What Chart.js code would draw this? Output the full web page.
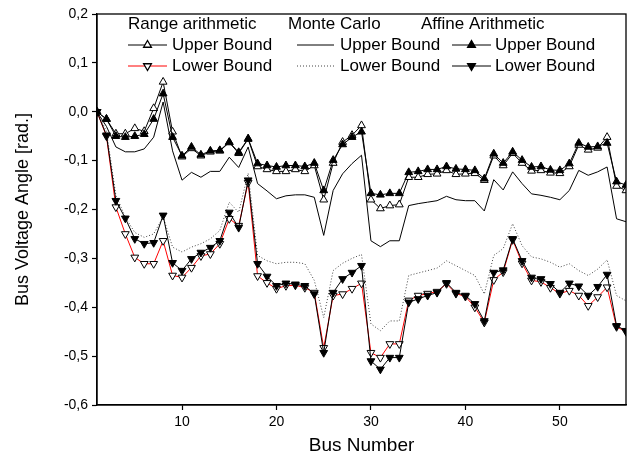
<!DOCTYPE html>
<html>
<head>
<meta charset="utf-8">
<script src="https://cdn.jsdelivr.net/npm/chart.js@4.4.0/dist/chart.umd.min.js"></script>
<style>
  html, body { margin: 0; padding: 0; background: #fff; }
  #wrap { width: 632px; height: 468px; }
</style>
</head>
<body>
<div id="wrap"><canvas id="chart"></canvas></div>
<script>
// Bus numbers (x axis)
const busNumbers = [1, 2, 3, 4, 5, 6, 7, 8, 9, 10, 11, 12, 13, 14, 15, 16, 17, 18, 19, 20,
  21, 22, 23, 24, 25, 26, 27, 28, 29, 30, 31, 32, 33, 34, 35, 36, 37, 38, 39, 40,
  41, 42, 43, 44, 45, 46, 47, 48, 49, 50, 51, 52, 53, 54, 55, 56, 57];

const xTicks = [10, 20, 30, 40, 50];
const yTicks = [-0.6, -0.5, -0.4, -0.3, -0.2, -0.1, 0.0, 0.1, 0.2];

// Affine arithmetic bounds
const affineUpper = [0, -0.015, -0.050, -0.052, -0.050, -0.046, -0.015, 0.037, -0.052, -0.090,
  -0.072, -0.088, -0.080, -0.079, -0.062, -0.083, -0.055, -0.106, -0.110, -0.113,
  -0.110, -0.110, -0.112, -0.105, -0.161, -0.099, -0.067, -0.052, -0.041, -0.167,
  -0.170, -0.167, -0.167, -0.124, -0.122, -0.118, -0.118, -0.112, -0.117, -0.118,
  -0.120, -0.137, -0.086, -0.105, -0.082, -0.099, -0.113, -0.112, -0.119, -0.120,
  -0.106, -0.064, -0.072, -0.071, -0.064, -0.143, -0.150];
const affineLower = [0, -0.048, -0.182, -0.218, -0.260, -0.270, -0.268, -0.212, -0.309, -0.325,
  -0.301, -0.288, -0.278, -0.264, -0.206, -0.237, -0.140, -0.311, -0.337, -0.356,
  -0.351, -0.353, -0.356, -0.373, -0.493, -0.370, -0.342, -0.329, -0.315, -0.510,
  -0.527, -0.503, -0.503, -0.390, -0.383, -0.376, -0.370, -0.350, -0.370, -0.376,
  -0.393, -0.428, -0.329, -0.324, -0.260, -0.305, -0.339, -0.342, -0.352, -0.370,
  -0.351, -0.357, -0.376, -0.358, -0.333, -0.438, -0.448];

// Range arithmetic bounds
const rangeUpper = [0, -0.015, -0.045, -0.045, -0.034, -0.040, 0.007, 0.061, -0.041, -0.092,
  -0.075, -0.090, -0.082, -0.080, -0.063, -0.085, -0.056, -0.112, -0.118, -0.122,
  -0.122, -0.118, -0.122, -0.110, -0.180, -0.105, -0.062, -0.048, -0.028, -0.180,
  -0.198, -0.192, -0.190, -0.134, -0.134, -0.128, -0.127, -0.120, -0.128, -0.127,
  -0.126, -0.140, -0.090, -0.110, -0.085, -0.105, -0.121, -0.120, -0.125, -0.126,
  -0.112, -0.068, -0.078, -0.074, -0.052, -0.152, -0.161];
const rangeLower = [0, -0.050, -0.195, -0.250, -0.298, -0.311, -0.311, -0.264, -0.335, -0.339,
  -0.319, -0.295, -0.291, -0.270, -0.219, -0.233, -0.145, -0.336, -0.350, -0.362,
  -0.356, -0.355, -0.360, -0.370, -0.483, -0.376, -0.373, -0.362, -0.351, -0.493,
  -0.503, -0.475, -0.475, -0.386, -0.376, -0.372, -0.368, -0.352, -0.372, -0.378,
  -0.400, -0.431, -0.344, -0.328, -0.262, -0.310, -0.345, -0.348, -0.360, -0.372,
  -0.366, -0.376, -0.397, -0.379, -0.359, -0.440, -0.450];

// Monte Carlo bounds
const monteUpper = [0, -0.030, -0.072, -0.082, -0.082, -0.076, -0.052, 0.020, -0.080, -0.140,
  -0.124, -0.134, -0.122, -0.122, -0.093, -0.114, -0.072, -0.147, -0.162, -0.178,
  -0.172, -0.170, -0.170, -0.175, -0.253, -0.161, -0.127, -0.106, -0.089, -0.264,
  -0.276, -0.264, -0.264, -0.192, -0.188, -0.185, -0.182, -0.173, -0.180, -0.182,
  -0.182, -0.203, -0.139, -0.160, -0.123, -0.147, -0.168, -0.171, -0.175, -0.180,
  -0.161, -0.120, -0.130, -0.123, -0.113, -0.219, -0.225];
const monteLower = [0, -0.040, -0.171, -0.216, -0.247, -0.257, -0.250, -0.215, -0.277, -0.287,
  -0.277, -0.270, -0.260, -0.243, -0.185, -0.206, -0.126, -0.294, -0.305, -0.311,
  -0.308, -0.308, -0.311, -0.345, -0.421, -0.325, -0.310, -0.300, -0.292, -0.434,
  -0.448, -0.428, -0.428, -0.335, -0.330, -0.325, -0.320, -0.305, -0.315, -0.325,
  -0.335, -0.373, -0.294, -0.280, -0.229, -0.274, -0.297, -0.301, -0.308, -0.318,
  -0.311, -0.325, -0.335, -0.322, -0.303, -0.376, -0.387];

const FONT = '"Liberation Sans", Arial, sans-serif';

function toPoints(values) {
  return values.map((v, i) => ({ x: busNumbers[i], y: v }));
}

function commaNum(v) {
  return v.toFixed(1).replace('.', ',');
}

const datasets = [
  {
    label: 'Affine Upper Bound', data: toPoints(affineUpper),
    borderColor: '#000', borderWidth: 1,
    pointStyle: 'triangle', pointRadius: 4.5, pointRotation: 0,
    pointBackgroundColor: '#000', pointBorderColor: '#000', pointBorderWidth: 1
  },
  {
    label: 'Affine Lower Bound', data: toPoints(affineLower),
    borderColor: '#000', borderWidth: 1,
    pointStyle: 'triangle', pointRadius: 4.5, pointRotation: 180,
    pointBackgroundColor: '#000', pointBorderColor: '#000', pointBorderWidth: 1
  },
  {
    label: 'Range Upper Bound', data: toPoints(rangeUpper),
    borderColor: '#000', borderWidth: 1,
    pointStyle: 'triangle', pointRadius: 4.5, pointRotation: 0,
    pointBackgroundColor: '#fff', pointBorderColor: '#000', pointBorderWidth: 1
  },
  {
    label: 'Range Lower Bound', data: toPoints(rangeLower),
    borderColor: '#ff0000', borderWidth: 1,
    pointStyle: 'triangle', pointRadius: 4.5, pointRotation: 180,
    pointBackgroundColor: '#fff', pointBorderColor: '#000', pointBorderWidth: 1
  },
  {
    label: 'Monte Carlo Upper Bound', data: toPoints(monteUpper),
    borderColor: '#000', borderWidth: 1, pointRadius: 0
  },
  {
    label: 'Monte Carlo Lower Bound', data: toPoints(monteLower),
    borderColor: '#444', borderWidth: 1, borderDash: [1, 2], pointRadius: 0
  }
];

// Legend groups: header plus two rows (dataset indices)
const legendGroups = [
  { title: 'Range arithmetic', titleX: 128, lineX0: 128, lineX1: 167, textX: 172, items: [2, 3] },
  { title: 'Monte Carlo', titleX: 288, lineX0: 297, lineX1: 334, textX: 340, items: [4, 5] },
  { title: 'Affine Arithmetic', titleX: 421, lineX0: 452, lineX1: 491, textX: 495, items: [0, 1] }
];
const legendRows = ['Upper Bound', 'Lower Bound'];

const frameAndLegend = {
  id: 'frameAndLegend',
  afterDraw(chart) {
    const { ctx, chartArea: a } = chart;
    ctx.save();
    // box around the plot
    ctx.strokeStyle = '#000';
    ctx.lineWidth = 1.3;
    ctx.strokeRect(a.left, a.top, a.right - a.left, a.bottom - a.top);

    ctx.font = '17px ' + FONT;
    ctx.fillStyle = '#000';
    ctx.textBaseline = 'middle';
    ctx.textAlign = 'left';
    const headerY = 24, rowY = [45, 66];
    legendGroups.forEach(g => {
      ctx.fillText(g.title, g.titleX, headerY);
      g.items.forEach((di, r) => {
        const ds = chart.data.datasets[di];
        const y = rowY[r];
        ctx.save();
        ctx.strokeStyle = ds.borderColor;
        ctx.lineWidth = ds.borderWidth;
        ctx.setLineDash(ds.borderDash || []);
        ctx.beginPath();
        ctx.moveTo(g.lineX0, y);
        ctx.lineTo(g.lineX1, y);
        ctx.stroke();
        ctx.restore();
        if (ds.pointRadius > 0) {
          ctx.save();
          ctx.fillStyle = ds.pointBackgroundColor;
          ctx.strokeStyle = ds.pointBorderColor;
          Chart.helpers.drawPoint(ctx, {
            pointStyle: ds.pointStyle, rotation: ds.pointRotation,
            radius: ds.pointRadius, borderWidth: ds.pointBorderWidth
          }, (g.lineX0 + g.lineX1) / 2, y);
          ctx.restore();
        }
        ctx.fillText(legendRows[r], g.textX, y);
      });
    });
    ctx.restore();
  }
};

new Chart(document.getElementById('chart'), {
  type: 'line',
  data: { datasets: datasets },
  options: {
    responsive: true,
    maintainAspectRatio: false,
    animation: false,
    layout: { padding: { left: 0, right: 6, top: 14, bottom: 0 } },
    elements: { line: { tension: 0 } },
    plugins: {
      legend: { display: false },
      tooltip: { enabled: false }
    },
    scales: {
      x: {
        type: 'linear',
        min: 1,
        max: 57,
        afterBuildTicks: scale => { scale.ticks = xTicks.map(v => ({ value: v })); },
        afterFit: scale => { scale.height = 63; },
        grid: { drawOnChartArea: false, drawTicks: true, tickLength: 5, color: '#000', tickWidth: 1.2 },
        border: { display: true, color: '#000', width: 1.3 },
        ticks: { color: '#000', font: { family: FONT, size: 14 }, padding: 4, maxRotation: 0 },
        title: {
          display: true, text: 'Bus Number', color: '#000',
          font: { family: FONT, size: 19 }, padding: { top: 0, bottom: 11 }
        }
      },
      y: {
        type: 'linear',
        min: -0.6,
        max: 0.2,
        afterBuildTicks: scale => { scale.ticks = yTicks.map(v => ({ value: v })); },
        afterFit: scale => { scale.width = 97; },
        grid: { drawOnChartArea: false, drawTicks: true, tickLength: 5, color: '#000', tickWidth: 1.2 },
        border: { display: true, color: '#000', width: 1.3 },
        ticks: {
          color: '#000', font: { family: FONT, size: 14 }, padding: 4,
          callback: v => commaNum(v)
        },
        title: {
          display: true, text: 'Bus Voltage Angle [rad.]', color: '#000',
          font: { family: FONT, size: 18 }, padding: { top: 12, bottom: 0 }
        }
      }
    }
  },
  plugins: [frameAndLegend]
});
</script>
</body>
</html>
